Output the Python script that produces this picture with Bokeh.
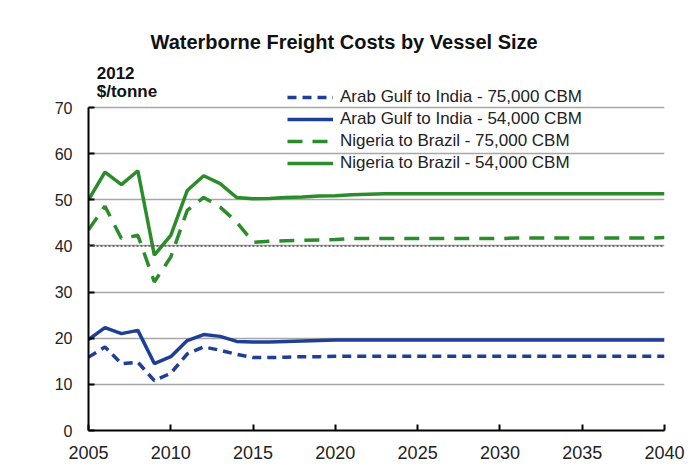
from bokeh.plotting import figure
from bokeh.models import Legend, LegendItem, Label, Span, FixedTicker
from bokeh.embed import file_html
from bokeh.resources import INLINE

years = list(range(2005, 2041))

arab_75 = [15.9, 18.1, 14.5, 14.8, 10.8, 12.4, 16.6, 18.1, 17.4, 16.5,
           15.8, 15.8, 15.9, 16.0, 16.0, 16.1, 16.1, 16.1, 16.1, 16.1,
           16.1, 16.1, 16.1, 16.1, 16.1, 16.1, 16.1, 16.1, 16.1, 16.1,
           16.1, 16.1, 16.1, 16.1, 16.1, 16.1]
arab_54 = [19.7, 22.3, 21.0, 21.7, 14.5, 16.0, 19.5, 20.8, 20.4, 19.3,
           19.2, 19.2, 19.3, 19.4, 19.5, 19.6, 19.6, 19.6, 19.6, 19.6,
           19.6, 19.6, 19.6, 19.6, 19.6, 19.6, 19.6, 19.6, 19.6, 19.6,
           19.6, 19.6, 19.6, 19.6, 19.6, 19.6]
nigeria_75 = [43.5, 48.6, 41.6, 42.3, 32.2, 37.6, 47.7, 50.5, 48.4, 45.2,
              40.8, 41.0, 41.1, 41.2, 41.3, 41.4, 41.6, 41.6, 41.6, 41.6,
              41.6, 41.6, 41.6, 41.6, 41.6, 41.6, 41.7, 41.7, 41.7, 41.7,
              41.7, 41.7, 41.7, 41.7, 41.7, 41.8]
nigeria_54 = [50.0, 56.0, 53.3, 56.3, 38.0, 42.3, 52.0, 55.2, 53.5, 50.5,
              50.2, 50.3, 50.5, 50.6, 50.8, 50.9, 51.1, 51.2, 51.3, 51.3,
              51.3, 51.3, 51.3, 51.3, 51.3, 51.3, 51.3, 51.3, 51.3, 51.3,
              51.3, 51.3, 51.3, 51.3, 51.3, 51.3]

series_labels = ["Arab Gulf to India - 75,000 CBM",
                 "Arab Gulf to India - 54,000 CBM",
                 "Nigeria to Brazil - 75,000 CBM",
                 "Nigeria to Brazil - 54,000 CBM"]
x_ticks = [2005, 2010, 2015, 2020, 2025, 2030, 2035, 2040]
y_ticks = [0, 10, 20, 30, 40, 50, 60, 70]

title_text = "Waterborne Freight Costs by Vessel Size"
unit_line1 = "2012"
unit_line2 = "$/tonne"

BLUE = "#1F3E96"
GREEN = "#2A8C2A"
FONT = "Liberation Sans"

# frame spans 0..70 over 323px; extended upward so title/legend sit inside it
p = figure(width=691, height=465, output_backend="svg", toolbar_location=None,
           x_range=(2005, 2040), y_range=(0, 88.855),
           min_border_left=88, min_border_right=27,
           min_border_top=20, min_border_bottom=35)
p.outline_line_color = None
p.background_fill_color = "white"
p.border_fill_color = "white"

# grid
p.xgrid.visible = False
p.ygrid.ticker = FixedTicker(ticks=y_ticks)
p.ygrid.grid_line_color = "#a6a6a6"
p.ygrid.grid_line_width = 1.5
p.ygrid.bounds = (2005, 2039.9)

p.add_layout(Span(location=40, dimension="width", line_color="#555555",
                  line_dash="2 2", line_width=1.5))

# axes
for ax, ticks, standoff, fs in ((p.xaxis, x_ticks, 15, "18px"),
                                (p.yaxis, y_ticks, 16, "16px")):
    ax.ticker = FixedTicker(ticks=ticks)
    ax.axis_line_color = "black"
    ax.axis_line_width = 2
    ax.major_tick_line_color = "black"
    ax.major_tick_line_width = 2
    ax.major_tick_in = 6
    ax.major_tick_out = 0
    ax.minor_tick_in = 0
    ax.minor_tick_out = 0
    ax.major_label_text_font = FONT
    ax.major_label_text_font_size = fs
    ax.major_label_text_color = "#222222"
    ax.major_label_standoff = standoff
p.yaxis.bounds = (0, 70)

r1 = p.line(years, arab_75, line_color=BLUE, line_width=3.5, line_dash="9 6")
r2 = p.line(years, arab_54, line_color=BLUE, line_width=3.5)
r3 = p.line(years, nigeria_75, line_color=GREEN, line_width=3.5, line_dash="15 10")
r4 = p.line(years, nigeria_54, line_color=GREEN, line_width=3.5)

legend = Legend(items=[LegendItem(label=series_labels[i], renderers=[r])
                       for i, r in enumerate([r1, r2, r3, r4])],
                location=(199, 256), orientation="vertical",
                background_fill_alpha=0, border_line_alpha=0,
                padding=0, margin=0, spacing=0,
                label_height=22, glyph_height=22, glyph_width=46,
                label_standoff=7, label_text_font=FONT,
                label_text_font_size="17px", label_text_color="#222222")
p.add_layout(legend)

p.add_layout(Label(x=2020.53, y=84.1, text=title_text, text_font=FONT,
                   text_font_size="20px", text_font_style="bold",
                   text_align="center", text_baseline="middle",
                   text_color="#111111"))
p.add_layout(Label(x=2005.5, y=77.5, text=unit_line1, text_font=FONT,
                   text_font_size="17px", text_font_style="bold",
                   text_align="left", text_baseline="middle",
                   text_color="#111111"))
p.add_layout(Label(x=2005.5, y=73.4, text=unit_line2, text_font=FONT,
                   text_font_size="17px", text_font_style="bold",
                   text_align="left", text_baseline="middle",
                   text_color="#111111"))

open("out.html", "w").write(file_html(p, INLINE))
